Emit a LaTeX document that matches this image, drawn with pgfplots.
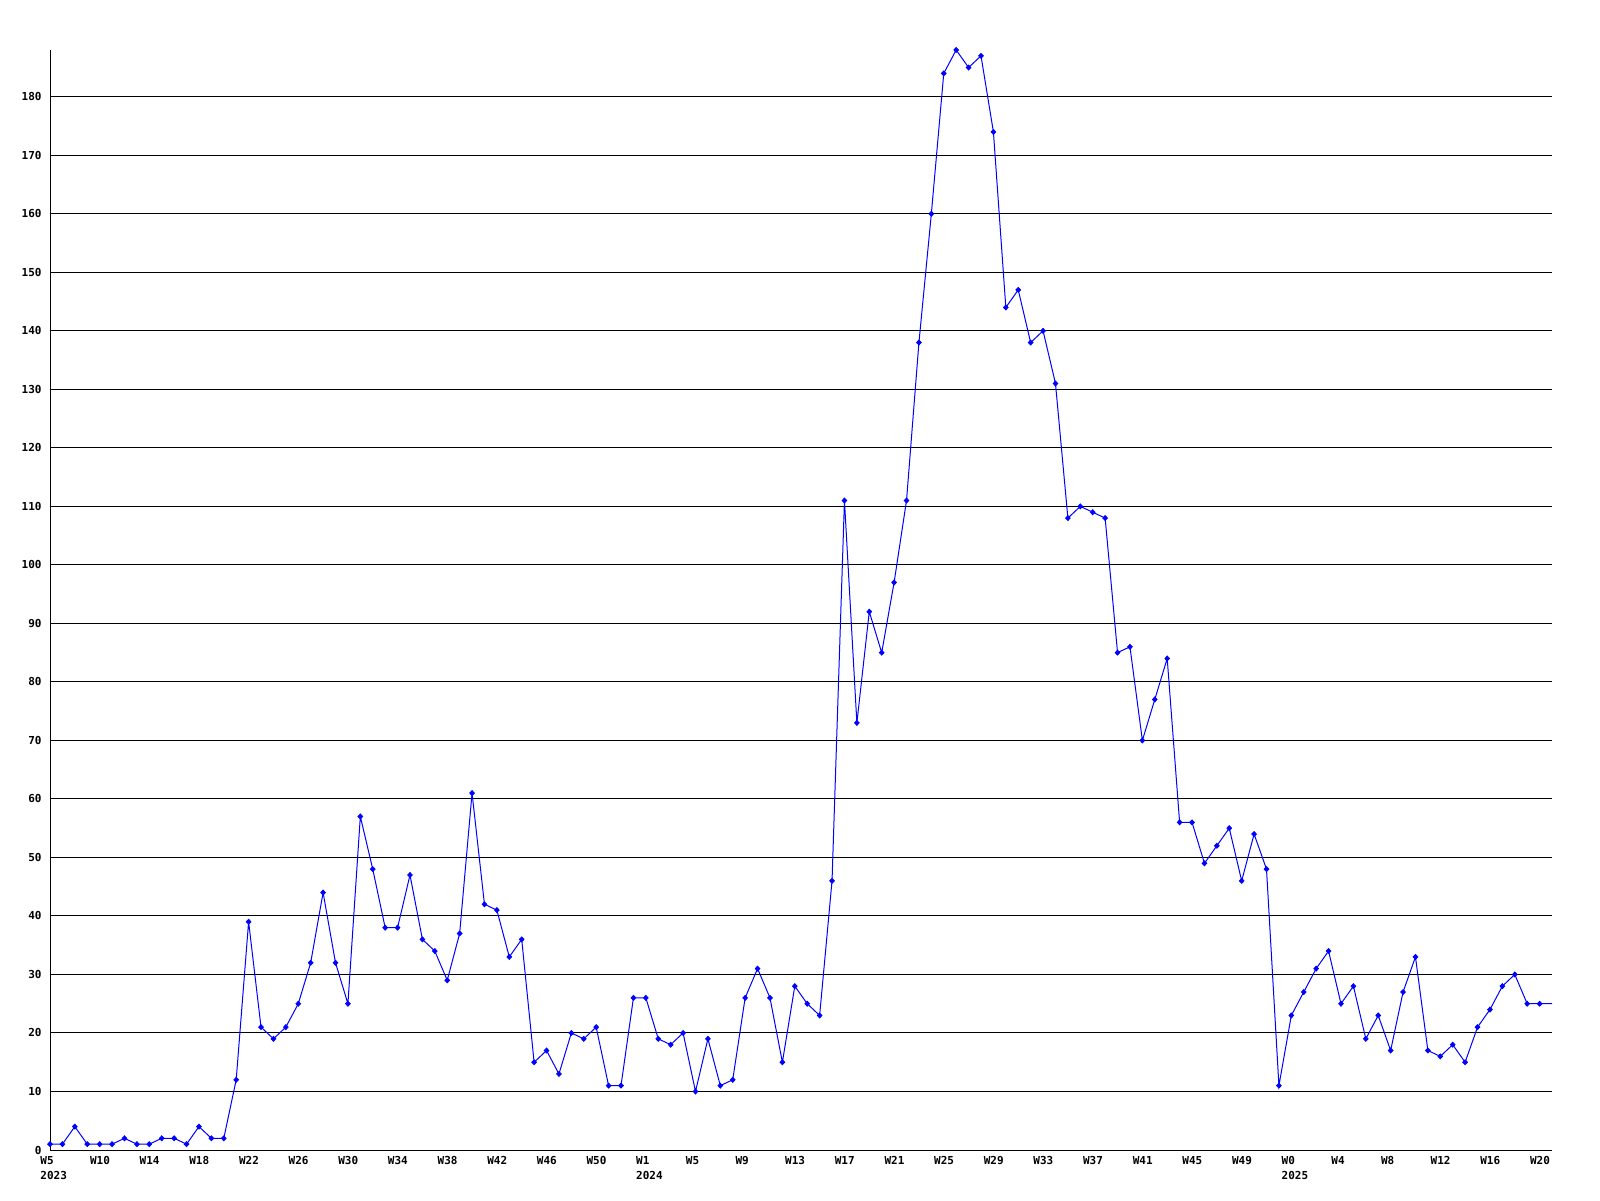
\documentclass[border=0pt]{standalone}
\usepackage{pgfplots}
\usepackage{pgfplotstable}
\pgfplotsset{compat=1.18}
\usepackage{fontspec}
\setmonofont{DejaVu Sans Mono}
\pgfplotstableread{
x y
0 1
1 1
2 4
3 1
4 1
5 1
6 2
7 1
8 1
9 2
10 2
11 1
12 4
13 2
14 2
15 12
16 39
17 21
18 19
19 21
20 25
21 32
22 44
23 32
24 25
25 57
26 48
27 38
28 38
29 47
30 36
31 34
32 29
33 37
34 61
35 42
36 41
37 33
38 36
39 15
40 17
41 13
42 20
43 19
44 21
45 11
46 11
47 26
48 26
49 19
50 18
51 20
52 10
53 19
54 11
55 12
56 26
57 31
58 26
59 15
60 28
61 25
62 23
63 46
64 111
65 73
66 92
67 85
68 97
69 111
70 138
71 160
72 184
73 188
74 185
75 187
76 174
77 144
78 147
79 138
80 140
81 131
82 108
83 110
84 109
85 108
86 85
87 86
88 70
89 77
90 84
91 56
92 56
93 49
94 52
95 55
96 46
97 54
98 48
99 11
100 23
101 27
102 31
103 34
104 25
105 28
106 19
107 23
108 17
109 27
110 33
111 17
112 16
113 18
114 15
115 21
116 24
117 28
118 30
119 25
120 25
121 25
}\datatable
\begin{document}
\begin{tikzpicture}
\useasboundingbox (0,0) rectangle (800pt,600pt);
\begin{axis}[
  at={(25pt,25pt)}, anchor=south west,
  scale only axis, width=751pt, height=550pt,
  xmin=0, xmax=121, ymin=0, ymax=188,
  axis x line=bottom, axis y line=left,
  axis line style={-, black, line width=0.5pt},
  major tick length=0pt,
  ytick={0,10,...,180},
  ymajorgrids, grid style={black, line width=0.5pt},
  /pgf/number format/assume math mode=true,
  ticklabel style={font=\fontsize{5.5}{7.5}\selectfont\ttfamily\bfseries},
  yticklabel style={anchor=east, inner sep=0pt, xshift=-4pt},
  xtick={0,4,...,120},
  xticklabels={{W5\\2023},W10,W14,W18,W22,W26,W30,W34,W38,W42,W46,W50,{W1\\2024},W5,W9,W13,W17,W21,W25,W29,W33,W37,W41,W45,W49,{W0\\2025},W4,W8,W12,W16,W20},
  xticklabel style={anchor=north west, align=left, inner sep=0pt, xshift=-5pt, yshift=-3pt},
  clip=false,
]
\addplot[color={rgb,255:red,0;green,0;blue,255}, line width=0.5pt, mark=none] table[x=x,y=y]{\datatable};
\addplot[only marks, color={rgb,255:red,0;green,0;blue,255}, mark=diamond*, mark size=1.25pt, mark options={scale=1, xscale=1.25}, restrict x to domain=0:120] table[x=x,y=y]{\datatable};
\end{axis}
\end{tikzpicture}
\end{document}
